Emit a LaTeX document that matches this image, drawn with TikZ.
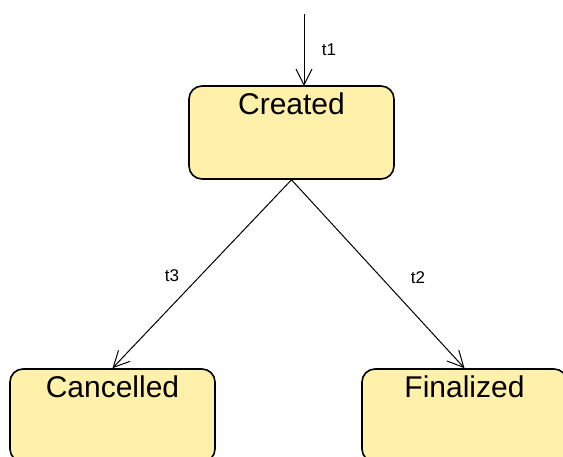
\documentclass[tikz,border=0pt]{standalone}
\usepackage{fontspec}
\setmainfont{Liberation Sans}
\usetikzlibrary{arrows.meta,calc}
\definecolor{statefill}{HTML}{FFF0AA}
\tikzset{
  statebox/.style={draw=black, line width=1.6pt, fill=statefill, rounded corners=13pt,
    minimum width=205pt, minimum height=93pt, inner sep=0pt},
  statetitle/.style={anchor=base, inner sep=0pt, font=\fontsize{30}{36}\selectfont},
  trans/.style={draw=black, line width=1pt, -{Straight Barb[length=16pt,width=16pt,line width=1pt]}},
  translabel/.style={inner sep=0pt, font=\fontsize{17}{20}\selectfont}
}
\begin{document}
\begin{tikzpicture}[x=1pt,y=-1pt]
\useasboundingbox (0,0) rectangle (563,456);
\node[statebox] (created) at (291.5,132.5) {};
\node[statetitle] (createdt) at ($(created.north)+(0,29.5)$) {Created};
\node[statebox] (cancelled) at (112.5,415.5) {};
\node[statetitle] (cancelledt) at ($(cancelled.north)+(0,29)$) {Cancelled};
\node[statebox] (finalized) at (464.5,415.5) {};
\node[statetitle] (finalizedt) at ($(finalized.north)+(0,29)$) {Finalized};
\coordinate (start) at (304,14);
\coordinate (createdin) at (304,86);
\draw[trans] (start) -- (createdin);
\node[translabel] (t1) at (329,50) {t1};
\draw[trans] (created.south) -- (cancelled.north);
\node[translabel] (t3) at (172,276) {t3};
\draw[trans] (created.south) -- (finalized.north);
\node[translabel] (t2) at (418,278) {t2};
\end{tikzpicture}
\end{document}
